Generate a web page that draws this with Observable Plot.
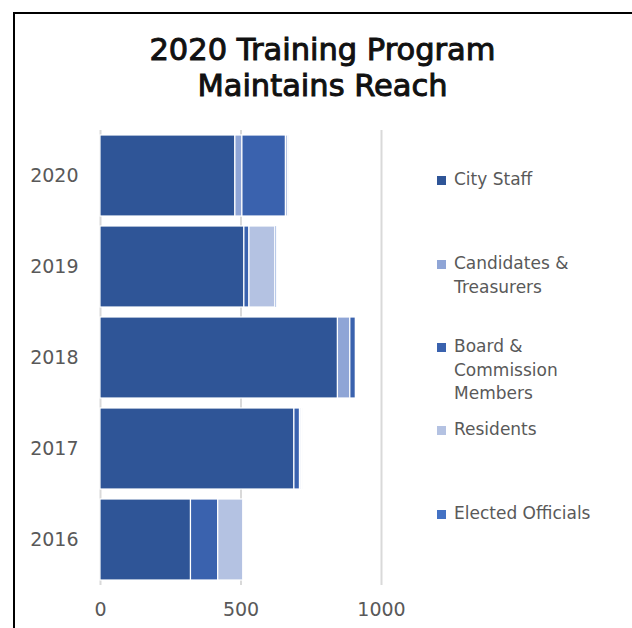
<!DOCTYPE html>
<html>
<head>
<meta charset="utf-8">
<script src="https://cdn.jsdelivr.net/npm/d3@7"></script>
<script src="https://cdn.jsdelivr.net/npm/@observablehq/plot@0.6"></script>
<style>
  html, body { margin: 0; padding: 0; background: #fff; }
  #wrap { position: relative; width: 632px; height: 628px; overflow: hidden; background: #fff; }
  #frame { position: absolute; left: 13px; top: 12px; width: 700px; height: 700px; border: 2px solid #000; box-sizing: border-box; }
  .tline { position: absolute; left: 13px; width: 619px; text-align: center; font-family: "DejaVu Sans", sans-serif; font-weight: normal; font-size: 30.5px; line-height: 34px; color: #111; -webkit-text-stroke: 1px #111; white-space: nowrap; }
  #chart { position: absolute; left: 0; top: 0; }
  #legend { position: absolute; left: 437px; top: 0; font-family: "DejaVu Sans", sans-serif; font-size: 17px; line-height: 23.5px; color: #595959; }
  .item { position: absolute; left: 0; white-space: nowrap; }
  .sw { position: absolute; left: 0; width: 9px; height: 9px; }
  .lab { position: absolute; left: 17px; }
</style>
</head>
<body>
<div id="wrap">
  <div id="frame"></div>
  <div id="chart"></div>
  <div class="tline" style="top:33px">2020 Training Program</div>
  <div class="tline" style="top:69px">Maintains Reach</div>
  <div id="legend"></div>
</div>
<script>
const years = ["2020", "2019", "2018", "2017", "2016"];
const seriesNames = ["City Staff", "Candidates & Treasurers", "Board & Commission Members", "Residents", "Elected Officials"];
const legendLines = [["City Staff"], ["Candidates &", "Treasurers"], ["Board &", "Commission", "Members"], ["Residents"], ["Elected Officials"]];
const cityStaff = [480, 512, 845, 690, 322];
const candidates = [25, 0, 44, 0, 0];
const board = [155, 18, 20, 20, 97];
const residents = [8, 92, 4, 5, 89];
const elected = [2, 5, 3, 4, 4];
const xTicks = [0, 500, 1000];
const colors = ["#2F5597", "#8FA5D6", "#3A62AE", "#B4C2E2", "#4472C4"];

const allValues = [cityStaff, candidates, board, residents, elected];
const data = [];
seriesNames.forEach((s, i) => {
  years.forEach((y, j) => {
    if (allValues[i][j] > 0) data.push({year: y, series: s, value: allValues[i][j]});
  });
});

const chart = Plot.plot({
  width: 632,
  height: 628,
  marginLeft: 100,
  marginRight: 251,
  marginTop: 130,
  marginBottom: 43,
  style: {fontFamily: "'DejaVu Sans', sans-serif", fontSize: "19px", color: "#595959", background: "transparent", overflow: "visible"},
  x: {domain: [0, 1000], ticks: xTicks, tickFormat: d => String(d), tickSize: 0, tickPadding: 17, label: null},
  y: {domain: years, paddingInner: 0.11, paddingOuter: 0.055, tickSize: 0, tickPadding: 22, label: null},
  color: {domain: seriesNames, range: colors},
  marks: [
    Plot.ruleX(xTicks, {stroke: "#d9d9d9", strokeWidth: 2}),
    Plot.barX(data, Plot.stackX({x: "value", y: "year", fill: "series", z: "series", order: null, stroke: "white", strokeWidth: 1.2}))
  ]
});
document.getElementById("chart").appendChild(chart);

const legendTops = [180, 264, 347, 430, 514];
const leg = document.getElementById("legend");
seriesNames.forEach((s, i) => {
  const it = document.createElement("div");
  it.className = "item";
  it.style.top = (legendTops[i] - 12) + "px";
  const sw = document.createElement("div");
  sw.className = "sw";
  sw.style.background = colors[i];
  sw.style.top = "8px";
  const lab = document.createElement("div");
  lab.className = "lab";
  lab.innerHTML = legendLines[i].join("<br>");
  it.appendChild(sw);
  it.appendChild(lab);
  leg.appendChild(it);
});
</script>
</body>
</html>
